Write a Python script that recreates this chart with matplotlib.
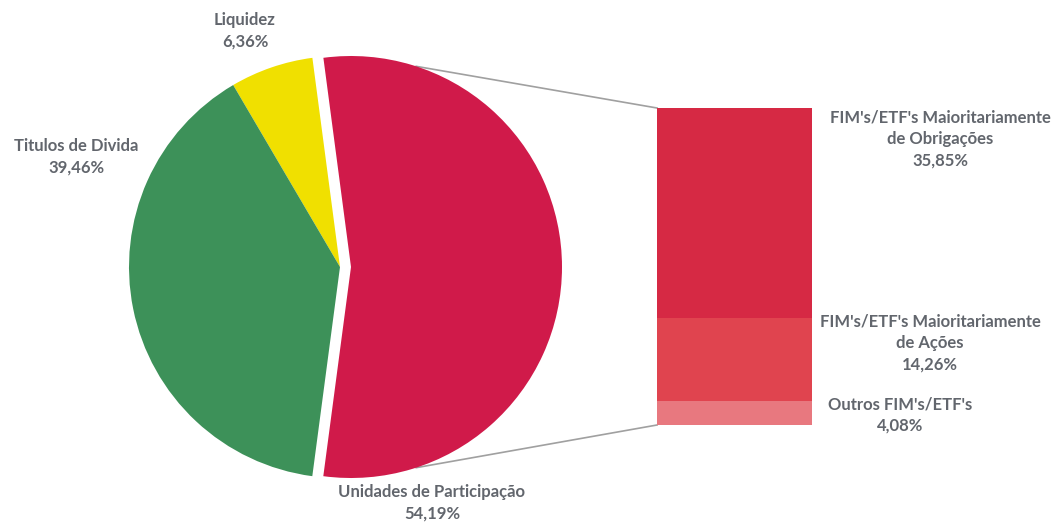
import numpy as np
import matplotlib
matplotlib.use("Agg")
import matplotlib.pyplot as plt

# ---- data ----
pie_labels = ["Unidades de Participação", "Liquidez", "Titulos de Divida"]
pie_values = [54.19, 6.36, 39.46]
pie_colors = ["#d01a4a", "#f0e000", "#3d9159"]

bar_labels = ["FIM's/ETF's Maioritariamente\nde Obrigações",
              "FIM's/ETF's Maioritariamente\nde Ações",
              "Outros FIM's/ETF's"]
bar_values = [35.85, 14.26, 4.08]
bar_colors = ["#d62944", "#e0444f", "#e8787f"]

def fmt(v):
    return f"{v:.2f}".replace(".", ",") + "%"

W, H = 1056, 523
fig = plt.figure(figsize=(W / 100, H / 100), dpi=100)
fig.patch.set_facecolor("white")

font = dict(family=["Lato", "DejaVu Sans"], fontweight="bold", color="#62666d", fontsize=12)

# pie axes in pixel coordinates
ax = fig.add_axes([0, 0, 1, 1])
cx, cy, R = 340, H - 267, 211
start = -pie_values[0] / 100 * 360 / 2
wedges, _ = ax.pie(pie_values, colors=pie_colors, startangle=start, counterclock=True,
                   center=(cx, cy), radius=R, explode=[11, 0, 0],
                   wedgeprops=dict(linewidth=0), frame=True)
ax.set_xlim(0, W)
ax.set_ylim(0, H)
ax.set_aspect("auto")
ax.axis("off")

# pie labels (position in pixels)
pie_label_pos = [(432, H - 503), (245, H - 31), (76, H - 157)]
for lab, val, (x, y) in zip(pie_labels, pie_values, pie_label_pos):
    ax.text(x, y, f"{lab}\n{fmt(val)}", ha="center", va="center", linespacing=1.42, **font)

# bar axes
bx0, bx1, by_top, by_bot = 657, 812, 108, 425
ax2 = fig.add_axes([bx0 / W, (H - by_bot) / H, (bx1 - bx0) / W, (by_bot - by_top) / H])
total = sum(bar_values)
bottoms = total - np.cumsum(bar_values)
ax2.bar([0] * len(bar_values), bar_values, bottom=bottoms, width=1, color=bar_colors, linewidth=0)
ax2.set_xlim(-0.5, 0.5)
ax2.set_ylim(0, total)
ax2.axis("off")

# bar labels
bar_label_pos = [(940, H - 139), (930, H - 343), (900, H - 415)]
for lab, val, (x, y) in zip(bar_labels, bar_values, bar_label_pos):
    ax.text(x, y, f"{lab}\n{fmt(val)}", ha="center", va="center", linespacing=1.42, **font)

# connector lines from red wedge to bar corners
w = wedges[0]
wcx, wcy = w.center
for ang, (tx, ty) in [(72, (bx0, H - by_top)), (-72, (bx0, H - by_bot))]:
    px = wcx + w.r * np.cos(np.radians(ang))
    py = wcy + w.r * np.sin(np.radians(ang))
    ax.plot([px, tx], [py, ty], color="#a0a0a0", lw=1.2, zorder=0)

fig.savefig("out.png", dpi=100, facecolor="white")
